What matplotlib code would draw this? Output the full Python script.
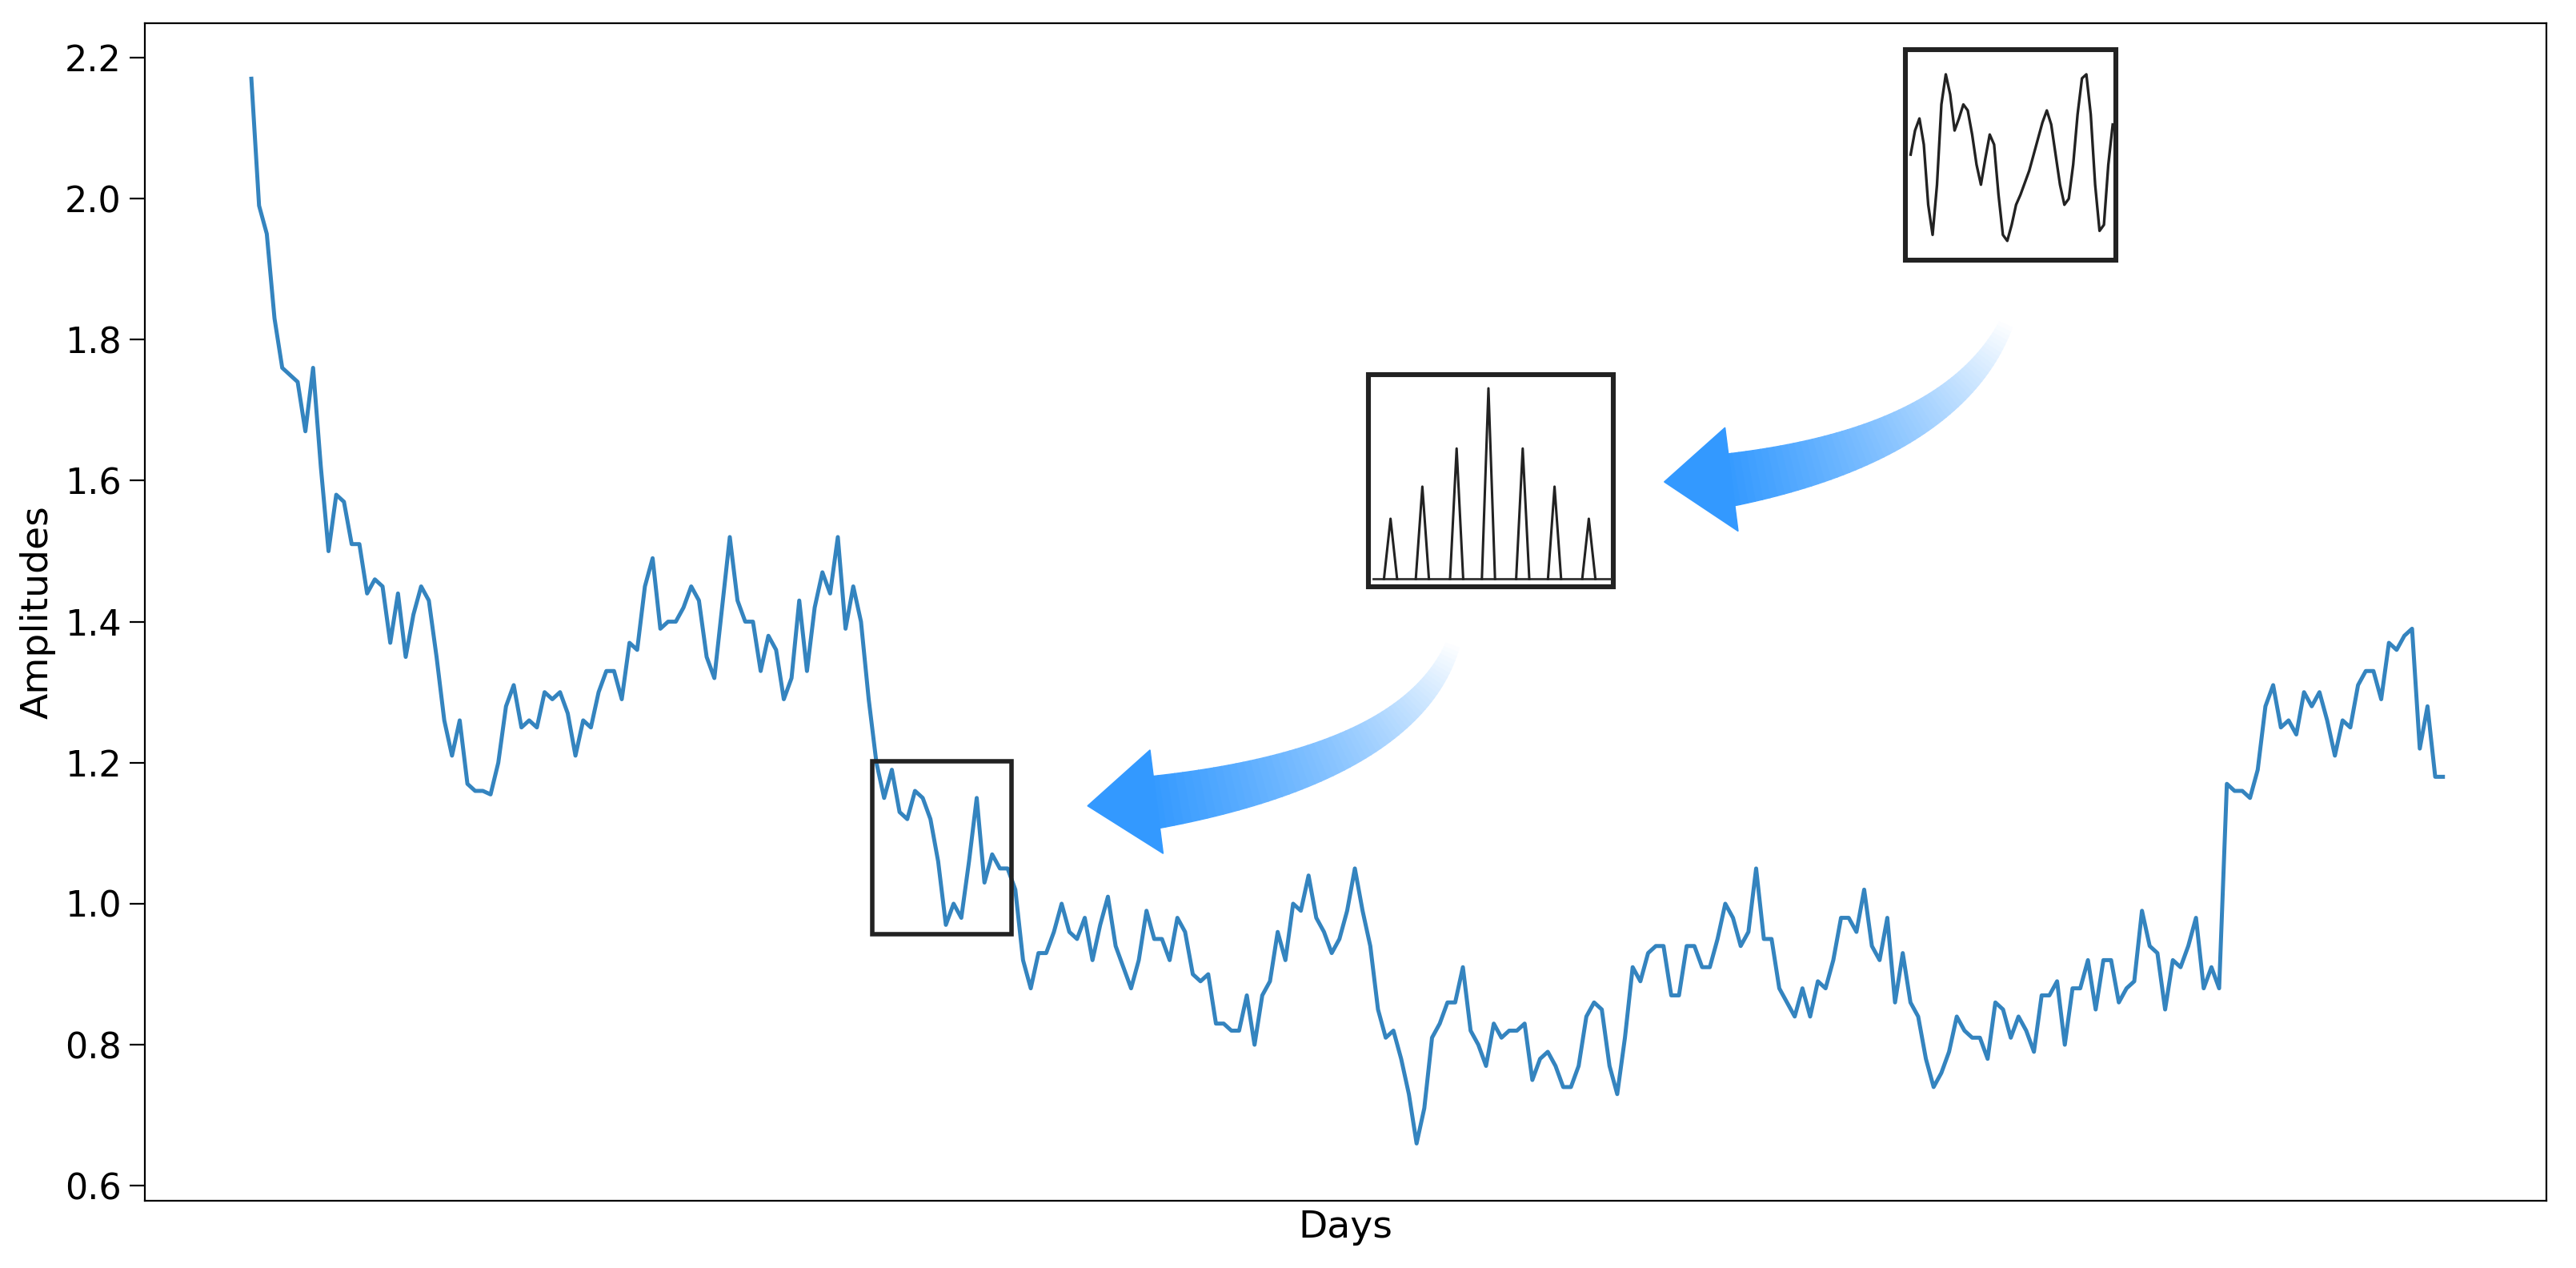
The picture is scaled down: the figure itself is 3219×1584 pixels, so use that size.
import numpy as np
import matplotlib.pyplot as plt
from matplotlib.patches import Polygon, Rectangle

# amplitude per day
amplitudes = [
    2.17, 1.99, 1.95, 1.83, 1.76, 1.75, 1.74, 1.67, 1.76, 1.62, 1.50, 1.58, 1.57, 1.51, 1.51, 1.44,
    1.46, 1.45, 1.37, 1.44, 1.35, 1.41, 1.45, 1.43, 1.35, 1.26, 1.21, 1.26, 1.17, 1.16, 1.16, 1.155,
    1.20, 1.28, 1.31, 1.25, 1.26, 1.25, 1.30, 1.29, 1.30, 1.27, 1.21, 1.26, 1.25, 1.30, 1.33, 1.33,
    1.29, 1.37, 1.36, 1.45, 1.49, 1.39, 1.40, 1.40, 1.42, 1.45, 1.43, 1.35, 1.32, 1.42, 1.52, 1.43,
    1.40, 1.40, 1.33, 1.38, 1.36, 1.29, 1.32, 1.43, 1.33, 1.42, 1.47, 1.44, 1.52, 1.39, 1.45, 1.40,
    1.29, 1.20, 1.15, 1.19, 1.13, 1.12, 1.16, 1.15, 1.12, 1.06, 0.97, 1.00, 0.98, 1.06, 1.15, 1.03,
    1.07, 1.05, 1.05, 1.02, 0.92, 0.88, 0.93, 0.93, 0.96, 1.00, 0.96, 0.95, 0.98, 0.92, 0.97, 1.01,
    0.94, 0.91, 0.88, 0.92, 0.99, 0.95, 0.95, 0.92, 0.98, 0.96, 0.90, 0.89, 0.90, 0.83, 0.83, 0.82,
    0.82, 0.87, 0.80, 0.87, 0.89, 0.96, 0.92, 1.00, 0.99, 1.04, 0.98, 0.96, 0.93, 0.95, 0.99, 1.05,
    0.99, 0.94, 0.85, 0.81, 0.82, 0.78, 0.73, 0.66, 0.71, 0.81, 0.83, 0.86, 0.86, 0.91, 0.82, 0.80,
    0.77, 0.83, 0.81, 0.82, 0.82, 0.83, 0.75, 0.78, 0.79, 0.77, 0.74, 0.74, 0.77, 0.84, 0.86, 0.85,
    0.77, 0.73, 0.81, 0.91, 0.89, 0.93, 0.94, 0.94, 0.87, 0.87, 0.94, 0.94, 0.91, 0.91, 0.95, 1.00,
    0.98, 0.94, 0.96, 1.05, 0.95, 0.95, 0.88, 0.86, 0.84, 0.88, 0.84, 0.89, 0.88, 0.92, 0.98, 0.98,
    0.96, 1.02, 0.94, 0.92, 0.98, 0.86, 0.93, 0.86, 0.84, 0.78, 0.74, 0.76, 0.79, 0.84, 0.82, 0.81,
    0.81, 0.78, 0.86, 0.85, 0.81, 0.84, 0.82, 0.79, 0.87, 0.87, 0.89, 0.80, 0.88, 0.88, 0.92, 0.85,
    0.92, 0.92, 0.86, 0.88, 0.89, 0.99, 0.94, 0.93, 0.85, 0.92, 0.91, 0.94, 0.98, 0.88, 0.91, 0.88,
    1.17, 1.16, 1.16, 1.15, 1.19, 1.28, 1.31, 1.25, 1.26, 1.24, 1.30, 1.28, 1.30, 1.26, 1.21, 1.26,
    1.25, 1.31, 1.33, 1.33, 1.29, 1.37, 1.36, 1.38, 1.39, 1.22, 1.28, 1.18, 1.18,
]
y_ticks = [0.6, 0.8, 1.0, 1.2, 1.4, 1.6, 1.8, 2.0, 2.2]

# sketch of a raw signal (top inset), 0 = bottom, 1 = top of box
wave = [0.50, 0.62, 0.68, 0.55, 0.25, 0.10, 0.35, 0.75, 0.90, 0.80, 0.62, 0.68, 0.75, 0.72,
        0.60, 0.45, 0.35, 0.48, 0.60, 0.55, 0.30, 0.10, 0.07, 0.15, 0.25, 0.30, 0.36, 0.42,
        0.50, 0.58, 0.66, 0.72, 0.65, 0.50, 0.35, 0.25, 0.28, 0.45, 0.70, 0.88, 0.90, 0.70,
        0.35, 0.12, 0.15, 0.45, 0.65]
# spectrum sketch (middle inset)
peak_pos = [0.09, 0.22, 0.36, 0.49, 0.63, 0.76, 0.90]
peak_h = [0.30, 0.46, 0.65, 0.95, 0.65, 0.46, 0.30]

W, H = 1568, 771  # reference layout units
fig = plt.figure(figsize=(16.095, 7.92), dpi=200)
ax = fig.add_axes([88 / W, 1 - 730 / H, (1550 - 88) / W, (730 - 14) / H])
days = np.arange(len(amplitudes))
ax.plot(days, amplitudes, color='#3484bf', lw=1.8)
n = len(amplitudes) - 1
per = n / (1487 - 153)
ax.set_xlim(-(153 - 88) * per, n + (1550 - 1487) * per)
ax.set_ylim(0.6 - 0.2 * 9 / 85.75, 2.2 + 0.2 * 21 / 85.75)
ax.set_yticks(y_ticks)
ax.set_xticks([])
ax.tick_params(labelsize=16, length=7)
ax.set_xlabel('Days', fontsize=17)
ax.set_ylabel('Amplitudes', fontsize=17)

# highlight box on the data
ax.add_patch(Rectangle((80.5, 0.957), 18, 0.245, fill=False, lw=2, ec='#222222', zorder=3))

# overlay in reference pixel units
ov = fig.add_axes([0, 0, 1, 1])
ov.set_xlim(0, W)
ov.set_ylim(H, 0)
ov.axis('off')


def box(x0, y0, x1, y1):
    ov.add_patch(Rectangle((x0, y0), x1 - x0, y1 - y0, fill=False, lw=2.2, ec='#222222'))


box(1160, 30, 1288, 158)
xs = np.linspace(1163, 1286, len(wave))
ov.plot(xs, [155 - w * 122 for w in wave], color='#222222', lw=1.2)

box(833, 228, 982, 357)
base = 352
ov.plot([836, 980], [base, base], color='#333333', lw=1)
for p, h in zip(peak_pos, peak_h):
    cx = 833 + p * 149
    ov.plot([cx - 4, cx, cx + 4], [base, base - h * 122, base], color='#222222', lw=1.1)


def arrow(p0, p1, p2, b1, b2, tip, wmax=16, nseg=60):
    t = np.linspace(0, 1, nseg + 1)
    pts = ((1 - t) ** 2)[:, None] * np.array(p0) + (2 * (1 - t) * t)[:, None] * np.array(p1) \
        + (t ** 2)[:, None] * np.array(p2)
    d = np.gradient(pts, axis=0)
    nrm = np.stack([-d[:, 1], d[:, 0]], 1)
    nrm /= np.linalg.norm(nrm, axis=1)[:, None]
    w = wmax * (0.25 + 0.75 * t)
    left = pts + nrm * w[:, None]
    right = pts - nrm * w[:, None]
    c0 = np.array([0.2, 0.6, 1.0])
    for i in range(nseg):
        f = t[i]
        col = 1 - (1 - c0) * min(1, f)
        q = [left[i], left[i + 1], right[i + 1], right[i]]
        ov.add_patch(Polygon(q, closed=True, fc=col, ec=col, lw=0.5))
    ov.add_patch(Polygon([b1, tip, b2], closed=True, fc=c0, ec=c0, lw=0.5))


arrow((1222, 195), (1190, 270), (1052, 292), (1050, 260), (1058, 323), (1013, 293))
arrow((885, 390), (860, 465), (702, 488), (700, 456), (708, 519), (662, 490))

fig.savefig('out.png', dpi=200)
